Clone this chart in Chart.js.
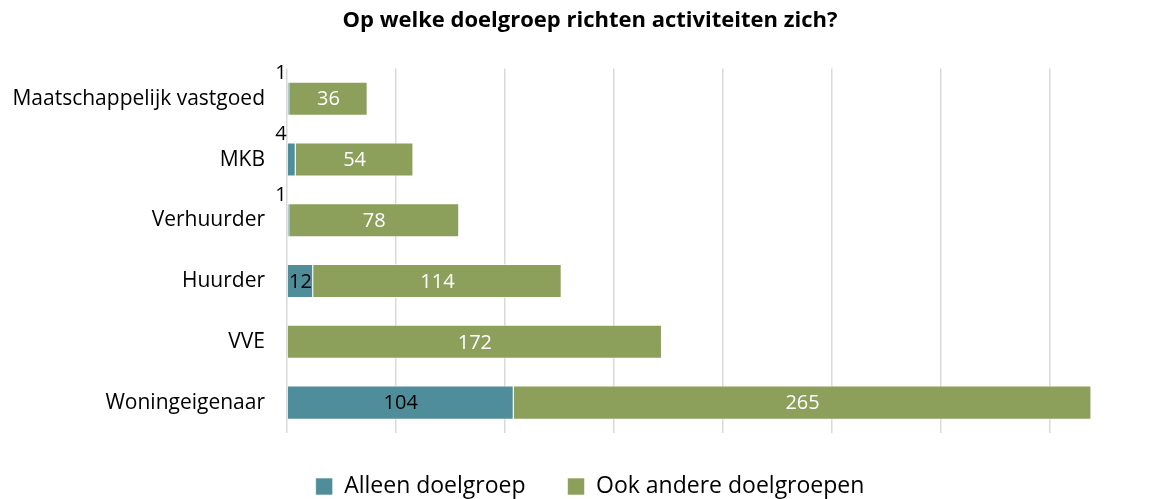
<!DOCTYPE html>
<html>
<head>
<meta charset="utf-8">
<script src="https://cdn.jsdelivr.net/npm/chart.js@4"></script>
<style>
  html, body { margin: 0; padding: 0; background: #fff; overflow: hidden; }
  #wrap { width: 1154px; height: 499px; overflow: hidden; }
  #box { width: 1180px; height: 508px; }
</style>
</head>
<body>
<div id="wrap"><div id="box"><canvas id="chart"></canvas></div></div>
<script>
// data
const categories = ['Maatschappelijk vastgoed', 'MKB', 'Verhuurder', 'Huurder', 'VVE', 'Woningeigenaar'];
const alleenDoelgroep = [1, 4, 1, 12, 0, 104];
const ookAndere = [36, 54, 78, 114, 172, 265];
const seriesNames = ['Alleen doelgroep', 'Ook andere doelgroepen'];

const FONT = "'Open Sans', sans-serif";

// draws the value labels; too-small bars get theirs above the bar start
const barLabels = {
  id: 'barLabels',
  afterDatasetsDraw(chart) {
    const ctx = chart.ctx;
    ctx.save();
    ctx.font = '20px ' + FONT;
    chart.data.datasets.forEach((ds, i) => {
      const meta = chart.getDatasetMeta(i);
      meta.data.forEach((bar, j) => {
        const v = ds.data[j];
        if (!v) return;
        const txt = String(v);
        const w = Math.abs(bar.x - bar.base);
        const tw = ctx.measureText(txt).width;
        if (tw > w) {
          ctx.fillStyle = '#000';
          ctx.textAlign = 'right';
          ctx.textBaseline = 'bottom';
          ctx.fillText(txt, bar.base - 1, bar.y - bar.height / 2 + 2);
        } else {
          ctx.fillStyle = ds.labelColor;
          ctx.textAlign = 'center';
          ctx.textBaseline = 'middle';
          ctx.fillText(txt, (bar.x + bar.base) / 2, bar.y + 1);
        }
      });
    });
    ctx.restore();
  }
};

new Chart(document.getElementById('chart').getContext('2d'), {
  type: 'bar',
  data: {
    labels: categories,
    datasets: [{
      label: seriesNames[0],
      data: alleenDoelgroep,
      backgroundColor: '#508d9b',
      borderColor: 'rgba(255,255,255,0.6)',
      borderWidth: 1,
      labelColor: '#000'
    }, {
      label: seriesNames[1],
      data: ookAndere,
      backgroundColor: '#8c9f5b',
      borderColor: 'rgba(255,255,255,0.6)',
      borderWidth: 1,
      labelColor: '#fff'
    }]
  },
  options: {
    indexAxis: 'y',
    responsive: true,
    maintainAspectRatio: false,
    animation: false,
    datasets: {
      bar: { barPercentage: 0.56, categoryPercentage: 1.0 }
    },
    layout: { padding: { left: 21, right: 21, top: 0, bottom: 0 } },
    scales: {
      x: {
        stacked: true,
        min: 0,
        max: 400,
        ticks: { display: false, stepSize: 50 },
        grid: { color: '#d9d9d9', lineWidth: 1.5, drawTicks: false },
        border: { display: false }
      },
      y: {
        stacked: true,
        grid: { display: false },
        border: { display: false },
        ticks: { color: '#000', font: { family: FONT, size: 21 }, padding: 14 },
        afterFit(scale) {
          scale.width = 266;
          // long category names may run into the left padding
          scale._computeLabelArea = () => undefined;
        }
      }
    },
    plugins: {
      title: {
        display: true,
        text: 'Op welke doelgroep richten activiteiten zich?',
        color: '#000',
        font: { family: FONT, size: 22, weight: 'bold' },
        padding: { top: 8, bottom: 34 }
      },
      legend: {
        position: 'bottom',
        labels: {
          color: '#000',
          font: { family: FONT, size: 23 },
          boxWidth: 17,
          boxHeight: 17,
          padding: 42
        }
      },
      tooltip: { enabled: false }
    }
  },
  plugins: [barLabels]
});
</script>
</body>
</html>
